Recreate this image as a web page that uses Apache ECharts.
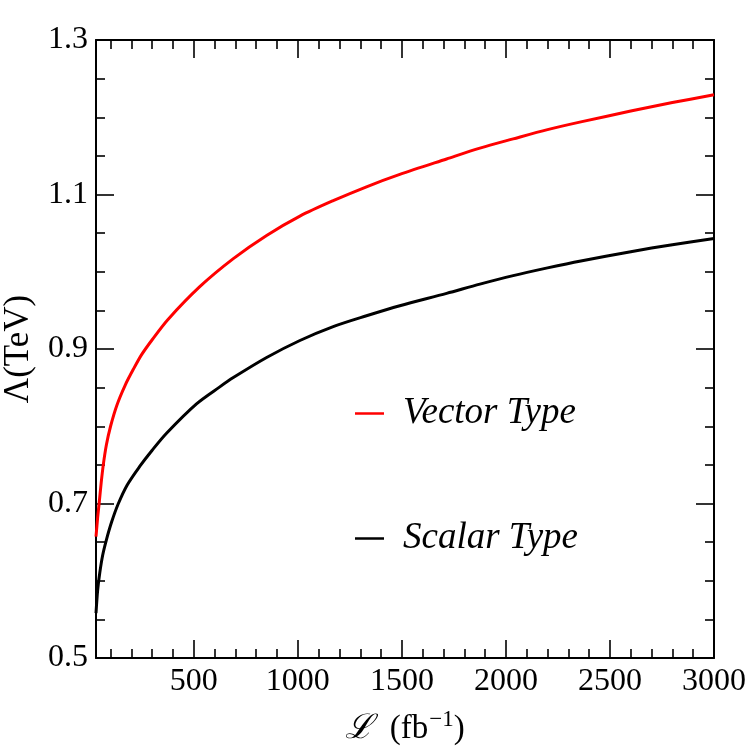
<!DOCTYPE html>
<html>
<head>
<meta charset="utf-8">
<script src="https://cdn.jsdelivr.net/npm/echarts@6/dist/echarts.min.js"></script>
<style>html,body{margin:0;padding:0;background:#fff}#c{width:750px;height:753px}</style>
</head>
<body>
<div id="c"></div>
<script>
// Data
const vectorL      = [30, 38, 45, 55, 65, 80, 100, 130, 170, 210, 250, 300, 375, 530, 690, 850, 1010, 1170, 1330, 1490, 1715, 1875, 2035, 2200, 2360, 2600, 2800, 3000];
const vectorLambda = [0.657, 0.682, 0.700, 0.727, 0.750, 0.776, 0.800, 0.827, 0.853, 0.874, 0.893, 0.912, 0.938, 0.981, 1.017, 1.047, 1.072, 1.092, 1.110, 1.126, 1.146, 1.160, 1.172, 1.184, 1.194, 1.208, 1.219, 1.229];
const scalarL      = [30, 38, 48, 62, 80, 105, 136, 180, 240, 300, 369, 513, 625, 690, 850, 1010, 1170, 1330, 1490, 1715, 1875, 2035, 2200, 2360, 2600, 2800, 3000];
const scalarLambda = [0.558, 0.588, 0.610, 0.633, 0.653, 0.676, 0.699, 0.724, 0.748, 0.769, 0.791, 0.829, 0.851, 0.863, 0.889, 0.911, 0.929, 0.943, 0.956, 0.972, 0.984, 0.995, 1.005, 1.014, 1.026, 1.035, 1.043];
const seriesNames  = ['Vector Type', 'Scalar Type'];
const xMajorTicks  = [500, 1000, 1500, 2000, 2500, 3000];
const xMinorTicks  = [100, 200, 300, 400, 600, 700, 800, 900, 1100, 1200, 1300, 1400, 1600, 1700, 1800, 1900, 2100, 2200, 2300, 2400, 2600, 2700, 2800, 2900];
const yMajorTicks  = [0.5, 0.7, 0.9, 1.1, 1.3];
const yMinorTicks  = [0.55, 0.6, 0.65, 0.75, 0.8, 0.85, 0.95, 1.0, 1.05, 1.15, 1.2, 1.25];
const xRange = [30, 3000];
const yRange = [0.5, 1.3];

const FONT = '"Liberation Serif", "DejaVu Serif", serif';
const chart = echarts.init(document.getElementById('c'));

function xAx(pos, major, showLine, showLabel) {
  return {
    type: 'value', position: pos, min: xRange[0], max: xRange[1],
    splitLine: { show: false },
    axisLine: { show: showLine, onZero: false, lineStyle: { color: '#000', width: 2 } },
    axisTick: { show: true, inside: true, length: major ? 18 : 9, customValues: major ? xMajorTicks : xMinorTicks,
                lineStyle: { color: '#000', width: 1.6 } },
    axisLabel: { show: showLabel, customValues: xMajorTicks, margin: 8, color: '#000', fontFamily: FONT, fontSize: 32,
                 formatter: v => String(v) }
  };
}
function yAx(pos, major, showLine, showLabel) {
  return {
    type: 'value', position: pos, min: yRange[0], max: yRange[1],
    splitLine: { show: false },
    axisLine: { show: showLine, onZero: false, lineStyle: { color: '#000', width: 2 } },
    axisTick: { show: true, inside: true, length: major ? 18 : 9, customValues: major ? yMajorTicks : yMinorTicks,
                lineStyle: { color: '#000', width: 1.6 } },
    axisLabel: { show: showLabel, customValues: yMajorTicks, margin: 8, color: '#000', fontFamily: FONT, fontSize: 32,
                 formatter: v => v.toFixed(1) }
  };
}

const xAxes = [xAx('bottom', true, true, true), xAx('bottom', false, false, false), xAx('top', true, true, false), xAx('top', false, false, false)];
xAxes[0].name = '{a|ℒ}{b|\u2002(fb}{s|−1}{b|)}';
xAxes[0].nameLocation = 'middle';
xAxes[0].nameGap = 53;
xAxes[0].nameTextStyle = {
  rich: {
    a: { fontFamily: FONT, fontSize: 34, fontStyle: 'italic', color: '#000', lineHeight: 36 },
    b: { fontFamily: FONT, fontSize: 33, color: '#000', lineHeight: 36 },
    s: { fontFamily: FONT, fontSize: 23, color: '#000', lineHeight: 20, padding: [0, 0, 18, 1] }
  }
};
const yAxes = [yAx('left', true, true, true), yAx('left', false, false, false), yAx('right', true, true, false), yAx('right', false, false, false)];
yAxes[0].name = 'Λ(TeV)';
yAxes[0].nameLocation = 'middle';
yAxes[0].nameGap = 60;
yAxes[0].nameTextStyle = { fontFamily: FONT, fontSize: 35, color: '#000' };

chart.setOption({
  animation: false,
  backgroundColor: '#fff',
  grid: { left: 96, right: 36, top: 40, bottom: 95, containLabel: false, outerBoundsMode: 'none' },
  legend: {
    orient: 'vertical', left: 355, top: 395, itemGap: 88, padding: 0,
    icon: 'rect', itemWidth: 29, itemHeight: 2.5,
    textStyle: { fontFamily: FONT, fontSize: 37, fontStyle: 'italic', color: '#000', padding: [0, 0, 0, 14] },
    data: seriesNames
  },
  xAxis: xAxes,
  yAxis: yAxes,
  series: [
    { name: seriesNames[0], type: 'line', smooth: 0.3, showSymbol: false, color: '#ff0000',
      lineStyle: { width: 3, color: '#ff0000' }, data: vectorL.map((x, i) => [x, vectorLambda[i]]) },
    { name: seriesNames[1], type: 'line', smooth: 0.3, showSymbol: false, color: '#000000',
      lineStyle: { width: 3, color: '#000000' }, data: scalarL.map((x, i) => [x, scalarLambda[i]]) }
  ]
});
</script>
</body>
</html>
